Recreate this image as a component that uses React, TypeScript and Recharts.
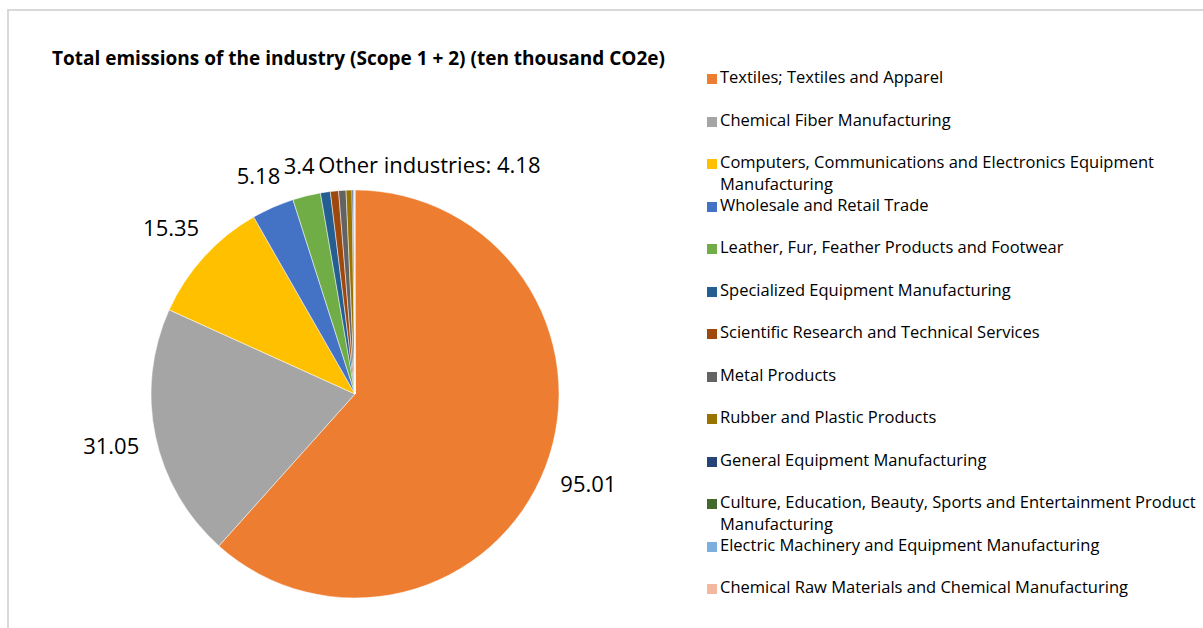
import React from 'react';
import { PieChart, Pie, Cell, Legend } from 'recharts';

const categories = [
  'Textiles; Textiles and Apparel',
  'Chemical Fiber Manufacturing',
  'Computers, Communications and Electronics Equipment Manufacturing',
  'Wholesale and Retail Trade',
  'Leather, Fur, Feather Products and Footwear',
  'Specialized Equipment Manufacturing',
  'Scientific Research and Technical Services',
  'Metal Products',
  'Rubber and Plastic Products',
  'General Equipment Manufacturing',
  'Culture, Education, Beauty, Sports and Entertainment Product Manufacturing',
  'Electric Machinery and Equipment Manufacturing',
  'Chemical Raw Materials and Chemical Manufacturing',
];

const values = [95.01, 31.05, 15.35, 5.18, 3.4, 1.2, 1.0, 0.9, 0.72, 0.16, 0.1, 0.06, 0.04];

const labelTexts = ['95.01', '31.05', '15.35', '5.18', '3.4', 'Other industries: 4.18', '', '', '', '', '', '', ''];
const groupLabelIndex = 5;

const colors = [
  '#ED7D31', '#A5A5A5', '#FFC000', '#4472C4', '#70AD47', '#255E91', '#9E480E',
  '#636363', '#997300', '#264478', '#43682B', '#7CAFDD', '#F4B8A0',
];

const title = 'Total emissions of the industry (Scope 1 + 2) (ten thousand CO2e)';

const data = categories.map((name, i) => ({ name, value: values[i], label: labelTexts[i] }));

const LABEL_FONT = '"Open Sans", "Noto Sans", sans-serif';
const LABEL_SIZE = 22;
const UI_FONT = '"Open Sans", "Noto Sans", sans-serif';

let ctx: CanvasRenderingContext2D | null = null;
function measure(text: string): number {
  if (!ctx) {
    const c = document.createElement('canvas');
    ctx = c.getContext('2d');
  }
  if (!ctx) return text.length * LABEL_SIZE * 0.55;
  ctx.font = `${LABEL_SIZE}px "Open Sans"`;
  return ctx.measureText(text).width;
}

const RAD = Math.PI / 180;

const renderLabel = (props: any) => {
  const { cx, cy, midAngle, outerRadius, index } = props;
  const text = labelTexts[index];
  if (!text) return null;
  const dx = Math.cos(-midAngle * RAD);
  const dy = Math.sin(-midAngle * RAD);
  if (index === groupLabelIndex) {
    const r = outerRadius + 28;
    return (
      <text x={cx + dx * r - 3} y={cy + dy * r} textAnchor="start" dominantBaseline="central"
        fontFamily={LABEL_FONT} fontSize={LABEL_SIZE} fill="#000">{text}</text>
    );
  }
  const w = measure(text);
  const h = 26;
  const r = outerRadius + 15 + Math.abs(dx) * w / 2 + Math.abs(dy) * h / 2;
  return (
    <text x={cx + dx * r} y={cy + dy * r} textAnchor="middle" dominantBaseline="central"
      fontFamily={LABEL_FONT} fontSize={LABEL_SIZE} fill="#000">{text}</text>
  );
};

const renderLegend = () => (
  <div style={{ fontFamily: UI_FONT, fontSize: 16.5, color: '#000' }}>
    {categories.map((name, i) => (
      <div key={name} style={{ height: 42.5, display: 'flex', alignItems: 'flex-start' }}>
        <span style={{ width: 10, height: 10, background: colors[i], marginTop: 8, marginRight: 3, flex: 'none' }} />
        <span style={{ lineHeight: '21.5px', width: 483 }}>{name}</span>
      </div>
    ))}
  </div>
);

export default function App() {
  return (
    <div style={{ position: 'fixed', left: 0, top: 0, width: 1203, height: 628, background: '#fff', overflow: 'hidden' }}>
      <div style={{ position: 'absolute', left: 7, top: 9, right: -10, bottom: -10, borderLeft: '2px solid #d9d9d9', borderTop: '2px solid #d9d9d9' }} />
      <div style={{ position: 'absolute', left: 52, top: 44, lineHeight: '28px', fontFamily: UI_FONT, fontWeight: 700, fontSize: 19, color: '#000', whiteSpace: 'nowrap' }}>
        {title}
      </div>
      <div style={{ position: 'absolute', left: 0, top: 0 }}>
        <PieChart width={1203} height={628} margin={{ top: 0, right: 0, bottom: 0, left: 0 }}>
          <Pie
            data={data}
            dataKey="value"
            nameKey="name"
            cx={355}
            cy={394}
            outerRadius={204}
            startAngle={90}
            endAngle={-270}
            label={renderLabel}
            labelLine={false}
            stroke="#fff"
            strokeWidth={0.5}
            isAnimationActive={false}
          >
            {data.map((d, i) => (
              <Cell key={d.name} fill={colors[i]} />
            ))}
          </Pie>
          <Legend
            layout="vertical"
            align="right"
            verticalAlign="top"
            content={renderLegend}
            wrapperStyle={{ position: 'absolute', left: 707, top: 66, width: 496 }}
          />
        </PieChart>
      </div>
    </div>
  );
}
